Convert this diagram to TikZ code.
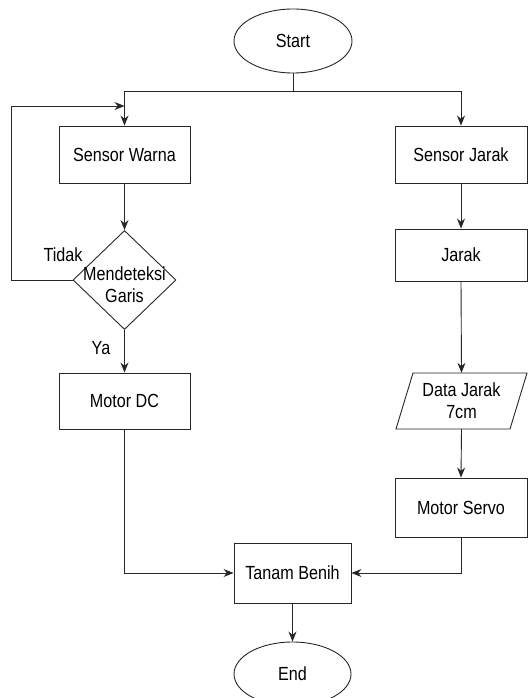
\documentclass[tikz,border=0pt]{standalone}
\usepackage{fontspec}
\setmainfont[FakeStretch=0.85]{Liberation Sans}
\usetikzlibrary{shapes.geometric,arrows.meta}
\begin{document}
\begin{tikzpicture}[x=1pt,y=-1pt,
  every node/.style={font=\fontsize{19}{22}\selectfont, text=black},
  proc/.style={draw=black!85, line width=0.9pt, rectangle, inner sep=0pt},
  term/.style={draw=black!85, line width=0.9pt, ellipse, inner sep=0pt, minimum width=118pt, minimum height=64pt},
  conn/.style={draw=black!85, line width=0.9pt},
  arr/.style={conn, -{Stealth[length=10pt,width=8pt]}},
  lbl/.style={inner sep=0pt}
]
\useasboundingbox (0,0) rectangle (529,698);

\node[term] (start) at (293,41) {Start};
\node[proc, minimum width=131pt, minimum height=57pt] (sw) at (124.5,154.5) {Sensor Warna};
\node[proc, minimum width=132pt, minimum height=57pt] (sj) at (461,154.5) {Sensor Jarak};
\node[diamond, draw=black!85, line width=0.9pt, inner sep=0pt, minimum width=103pt, minimum height=99pt] (dec) at (124.5,280) {};
\node[lbl, align=center] (dectext) at (124.5,285) {Mendeteksi\\Garis};
\node[proc, minimum width=132pt, minimum height=52pt] (jarak) at (461,255) {Jarak};
\node[proc, minimum width=131pt, minimum height=56pt] (mdc) at (124.5,401) {Motor DC};
\node[inner sep=0pt, minimum width=131pt, minimum height=56pt, align=center] (data) at (461.5,401) {Data Jarak\\7cm};
\draw[conn] (396,429) -- (413,373) -- (527,373) -- (510,429) -- cycle;
\node[proc, minimum width=132pt, minimum height=59pt] (ms) at (461,507.5) {Motor Servo};
\node[proc, minimum width=117pt, minimum height=60pt] (tb) at (292.5,573) {Tanam Benih};
\node[term, minimum width=117pt] (end) at (292.5,674) {End};

\coordinate (split) at (293,91);
\coordinate (loopa) at (11,280);
\coordinate (loopb) at (11,106);
\coordinate (loopc) at (124.5,106);

\draw[conn] (start.south) -- (split);
\draw[arr] (split) -| (sw.north);
\draw[arr] (split) -| (sj.north);
\draw[arr] (sw.south) -- (dec.north);
\draw[arr] (dec.south) -- (mdc.north);
\draw[arr] (dec.west) -- (loopa) -- (loopb) -- (loopc);
\draw[arr] (sj.south) -- (jarak.north);
\draw[arr] (jarak.south) -- (data.north);
\draw[arr] (data.south) -- (ms.north);
\draw[arr] (mdc.south) |- (tb.west);
\draw[arr] (ms.south) |- (tb.east);
\draw[arr] (tb.south) -- (end.north);

\node[lbl] (tidak) at (63,255) {Tidak};
\node[lbl] (ya) at (101,348) {Ya};
\end{tikzpicture}
\end{document}
